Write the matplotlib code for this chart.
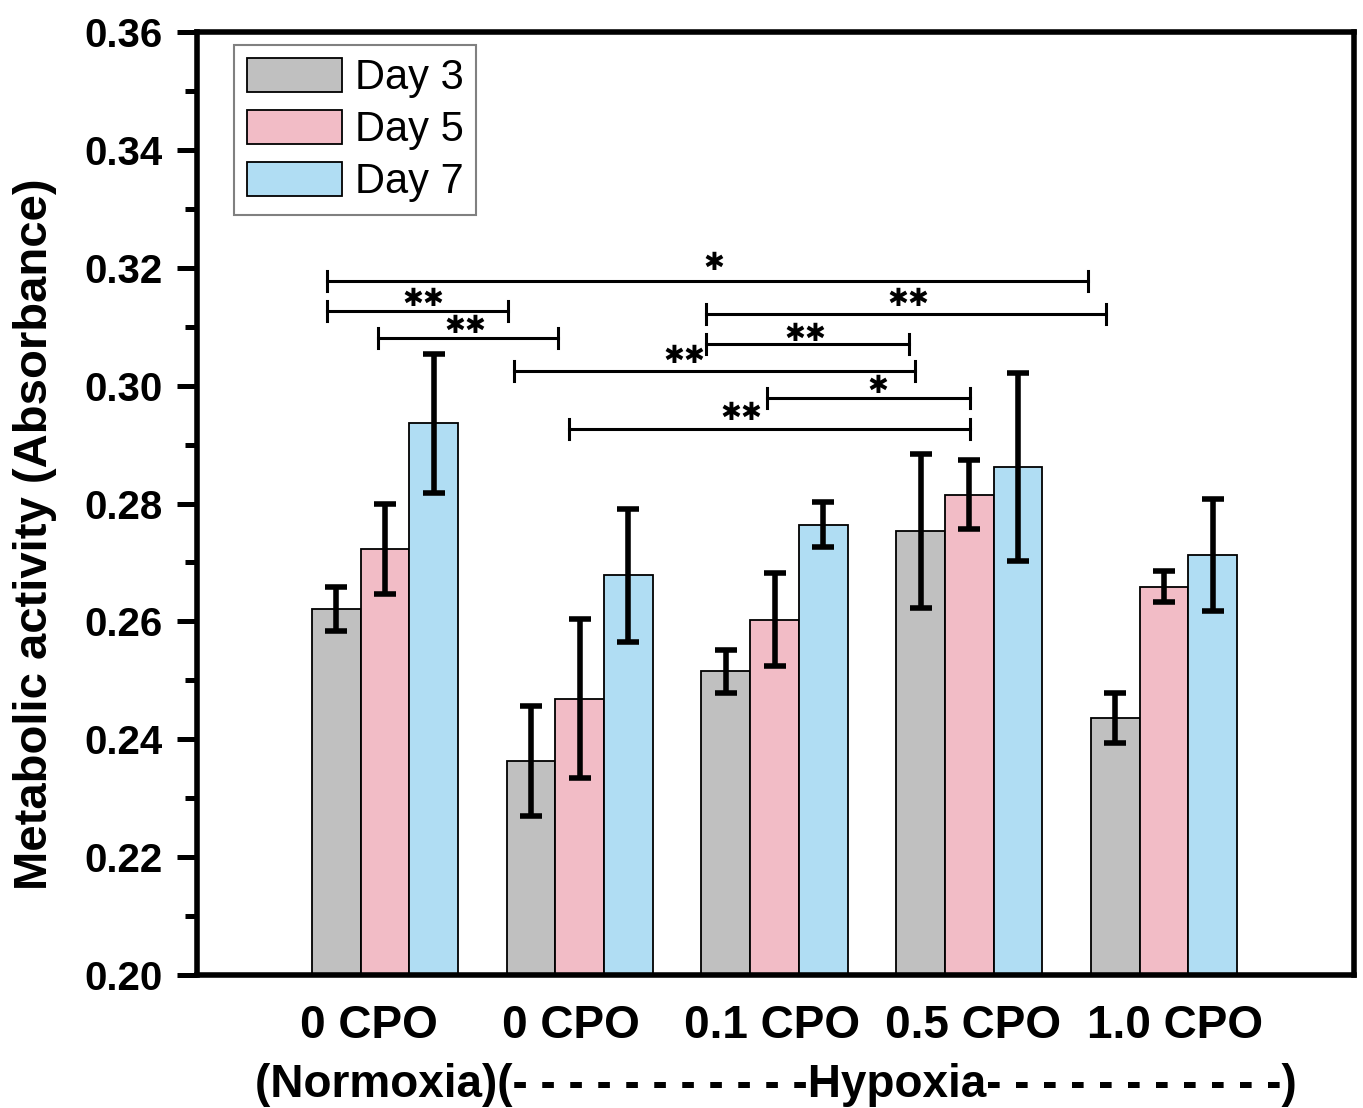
import numpy as np
import matplotlib
matplotlib.use("Agg")
import matplotlib.pyplot as plt

# Dados
grupos = ["0 CPO", "0 CPO", "0.1 CPO", "0.5 CPO", "1.0 CPO"]
rotulo_inferior = "(Normoxia)(- - - - - - - - - - -Hypoxia- - - - - - - - - - -)"

dias = ["Day 3", "Day 5", "Day 7"]
dia3 = [0.2621, 0.2363, 0.2515, 0.2753, 0.2436]
dia3_err = [0.0037, 0.0093, 0.0036, 0.0131, 0.0043]
dia5 = [0.2723, 0.2469, 0.2603, 0.2815, 0.2659]
dia5_err = [0.0076, 0.0135, 0.0079, 0.0058, 0.0026]
dia7 = [0.2936, 0.2678, 0.2764, 0.2862, 0.2713]
dia7_err = [0.0118, 0.0113, 0.0038, 0.0160, 0.0095]

# Barras de significância: início, fim, altura, rótulo
sig_inicio = [0.703, 0.703, 0.964, 2.649, 2.649, 1.663, 2.962, 1.945]
sig_fim = [4.61, 1.632, 1.889, 4.703, 3.691, 3.722, 4.004, 4.004]
sig_altura = [0.3178, 0.3127, 0.3081, 0.3121, 0.3071, 0.3025, 0.2979, 0.2926]
sig_rotulo = ["*", "**", "**", "**", "**", "**", "*", "**"]
estrela_x = [2.689, 1.195, 1.411, 3.686, 3.157, 2.536, 3.532, 2.828]
estrela_y = [0.3213, 0.3152, 0.3106, 0.3152, 0.3091, 0.3054, 0.3004, 0.2957]

cores = ["#c0c0c0", "#f2bcc6", "#b0ddf3"]
plt.rcParams['font.family'] = ['Liberation Sans', 'DejaVu Sans']

fig = plt.figure(figsize=(13.63, 11.08), dpi=100)
ax = fig.add_axes([197 / 1363, 1 - 975 / 1108, (1354 - 197) / 1363, (975 - 32) / 1108])

x = np.arange(1, len(grupos) + 1)
largura = 0.25
valores = [dia3, dia5, dia7]
erros = [dia3_err, dia5_err, dia7_err]
for k in range(3):
    pos = x + (k - 1) * largura
    ax.bar(pos, valores[k], largura, color=cores[k], edgecolor='black',
           linewidth=1.3, label=dias[k], zorder=2)
    ax.errorbar(pos, valores[k], yerr=erros[k], fmt='none', ecolor='black',
                elinewidth=4, capsize=8, capthick=4, zorder=3)

# Barras de significância (asteriscos em estilo "heavy")
for i in range(len(sig_inicio)):
    ax.plot([sig_inicio[i], sig_fim[i]], [sig_altura[i]] * 2, color='black', lw=2.2, zorder=4)
    for xe in (sig_inicio[i], sig_fim[i]):
        ax.plot([xe, xe], [sig_altura[i] - 0.0017, sig_altura[i] + 0.0017],
                color='black', lw=2.2, zorder=4)
    ax.text(estrela_x[i], estrela_y[i], sig_rotulo[i].replace("*", "\u2731"),
            ha='center', va='center_baseline', fontsize=18, family='DejaVu Sans')

ax.set_xlim(0.035, 5.975)
ax.set_ylim(0.20, 0.36)
ax.set_yticks(np.arange(0.20, 0.361, 0.02))
ax.set_yticks(np.arange(0.21, 0.36, 0.02), minor=True)
ax.set_yticklabels([f"{v:.2f}" for v in np.arange(0.20, 0.361, 0.02)],
                   fontsize=29, fontweight='bold')
# rótulos levemente espaçados como no original
ax.set_xticks(x * 1.034 - 0.115)
ax.set_xticklabels(grupos, fontsize=33, fontweight='bold')
ax.tick_params(axis='y', which='major', length=14.4, width=3.6, pad=10, direction='out')
ax.tick_params(axis='y', which='minor', length=8.6, width=3.6, direction='out')
ax.tick_params(axis='x', length=0, pad=21)
for s in ax.spines.values():
    s.set_linewidth(4)

ax.set_ylabel("Metabolic activity (Absorbance)", fontsize=34, fontweight='bold')
ax.yaxis.set_label_coords(-0.121, 0.4677)

fig.text(0.569, 1 - 1097 / 1108, rotulo_inferior, ha='center', va='baseline',
         fontsize=33, fontweight='bold')

leg = ax.legend(loc='upper left', bbox_to_anchor=(0.032, 0.986), borderaxespad=0,
                fontsize=30, frameon=True, fancybox=False, handlelength=2.3,
                handleheight=0.88, handletextpad=0.3, labelspacing=0.28,
                borderpad=0.3, framealpha=1)
leg.get_frame().set_edgecolor('#808080')
leg.get_frame().set_linewidth(1.5)

fig.savefig("out.png", dpi=100)
